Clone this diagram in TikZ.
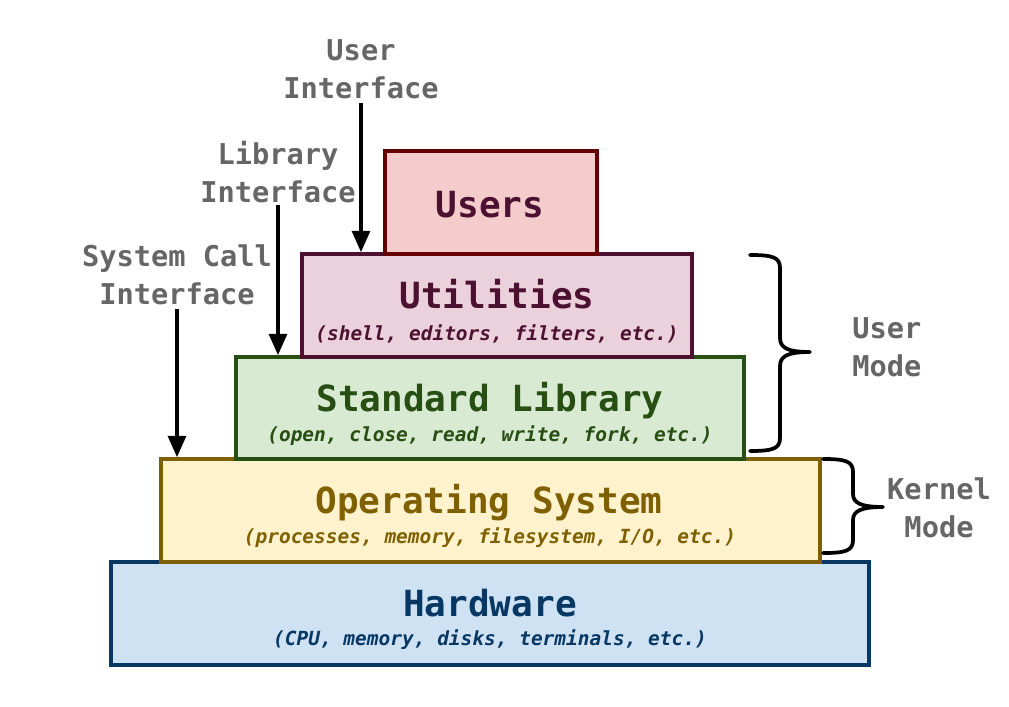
\documentclass[tikz,border=0pt]{standalone}
\usepackage{fontspec}
\setmainfont{DejaVu Sans Mono}
\usetikzlibrary{arrows.meta}
\definecolor{usF}{HTML}{F4CCCC}\definecolor{usB}{HTML}{660000}\definecolor{usT}{HTML}{4C1130}
\definecolor{utF}{HTML}{EAD1DC}\definecolor{utB}{HTML}{4C1130}\definecolor{utT}{HTML}{4C1130}
\definecolor{slF}{HTML}{D9EAD3}\definecolor{slB}{HTML}{274E13}\definecolor{slT}{HTML}{274E13}
\definecolor{osF}{HTML}{FFF2CC}\definecolor{osB}{HTML}{7F6000}\definecolor{osT}{HTML}{7F6000}
\definecolor{hwF}{HTML}{CFE2F3}\definecolor{hwB}{HTML}{073763}\definecolor{hwT}{HTML}{073763}
\definecolor{lbl}{HTML}{666666}
\begin{document}
\begin{tikzpicture}[x=0.75pt,y=-0.75pt,
  layer/.style={rectangle,line width=2.8pt,inner sep=0pt,minimum height=77.25pt},
  ttl/.style={anchor=base,inner sep=0pt,font=\fontsize{27}{27}\selectfont\bfseries},
  sub/.style={anchor=base,inner sep=0pt,font=\fontsize{14.6}{14.6}\selectfont\bfseries\itshape},
  side/.style={inner sep=0pt,text=lbl,align=center,font=\fontsize{21.5}{28.5}\selectfont\bfseries},
  arr/.style={line width=2.5pt,-{Triangle[width=13.5pt,length=16pt]}},
  brace/.style={line width=2.8pt,line cap=round,line join=round}]
\useasboundingbox (0,0) rectangle (1009,706);
% layers, bottom first
\node[layer,draw=hwB,fill=hwF,minimum width=568.5pt] (hw) at (490,613.5) {};
\node[layer,draw=osB,fill=osF,minimum width=494.25pt] (os) at (490.5,510.5) {};
\node[layer,draw=slB,fill=slF,minimum width=381pt,minimum height=76.5pt] (sl) at (490,408) {};
\node[layer,draw=utB,fill=utF,minimum width=292.5pt] (ut) at (497,305.5) {};
\node[layer,draw=usB,fill=usF,minimum width=159pt] (us) at (491,202.5) {};
% texts
\node[ttl,text=usT] (usTitle) at (490,217) {Users};
\node[ttl,text=utT] (utTitle) at (497,308) {Utilities};
\node[sub,text=utT] (utSub) at (497,340) {(shell, editors, filters, etc.)};
\node[ttl,text=slT] (slTitle) at (490,411) {Standard Library};
\node[sub,text=slT] (slSub) at (490,441) {(open, close, read, write, fork, etc.)};
\node[ttl,text=osT] (osTitle) at (489,513) {Operating System};
\node[sub,text=osT] (osSub) at (490,543) {(processes, memory, filesystem, I/O, etc.)};
\node[ttl,text=hwT] (hwTitle) at (490,616) {Hardware};
\node[sub,text=hwT] (hwSub) at (490,645) {(CPU, memory, disks, terminals, etc.)};
% interface labels
\node[side] (ui) at (361,69) {User\\Interface};
\node[side] (li) at (278,172) {Library\\Interface};
\node[side] (sci) at (177,275) {System Call\\Interface};
\coordinate (uiS) at (361,103);
\coordinate (liS) at (278,205);
\coordinate (sciS) at (177,309);
\draw[arr] (uiS) -- (uiS |- ut.north);
\draw[arr] (liS) -- (liS |- sl.north);
\draw[arr] (sciS) -- (sciS |- os.north);
% mode braces
\coordinate (ub1) at (750,255);
\coordinate (ub2) at (750,451);
\coordinate (utip) at (810,352);
\draw[brace] (ub1) .. controls (772,255) and (780,257) .. (780,268)
  -- (780,338) .. controls (780,348) and (788,352) .. (utip)
  .. controls (788,352) and (780,356) .. (780,366)
  -- (780,438) .. controls (780,449) and (772,451) .. (ub2);
\coordinate (kb1) at (823,459);
\coordinate (kb2) at (823,553);
\coordinate (ktip) at (883,507);
\draw[brace] (kb1) .. controls (845,459) and (853,461) .. (853,472)
  -- (853,494) .. controls (853,503) and (861,507) .. (ktip)
  .. controls (861,507) and (853,511) .. (853,520)
  -- (853,540) .. controls (853,551) and (845,553) .. (kb2);
\node[side,align=left,anchor=west] (um) at (852,347) {User\\Mode};
\node[side] (km) at (939,508) {Kernel\\Mode};
\end{tikzpicture}
\end{document}
